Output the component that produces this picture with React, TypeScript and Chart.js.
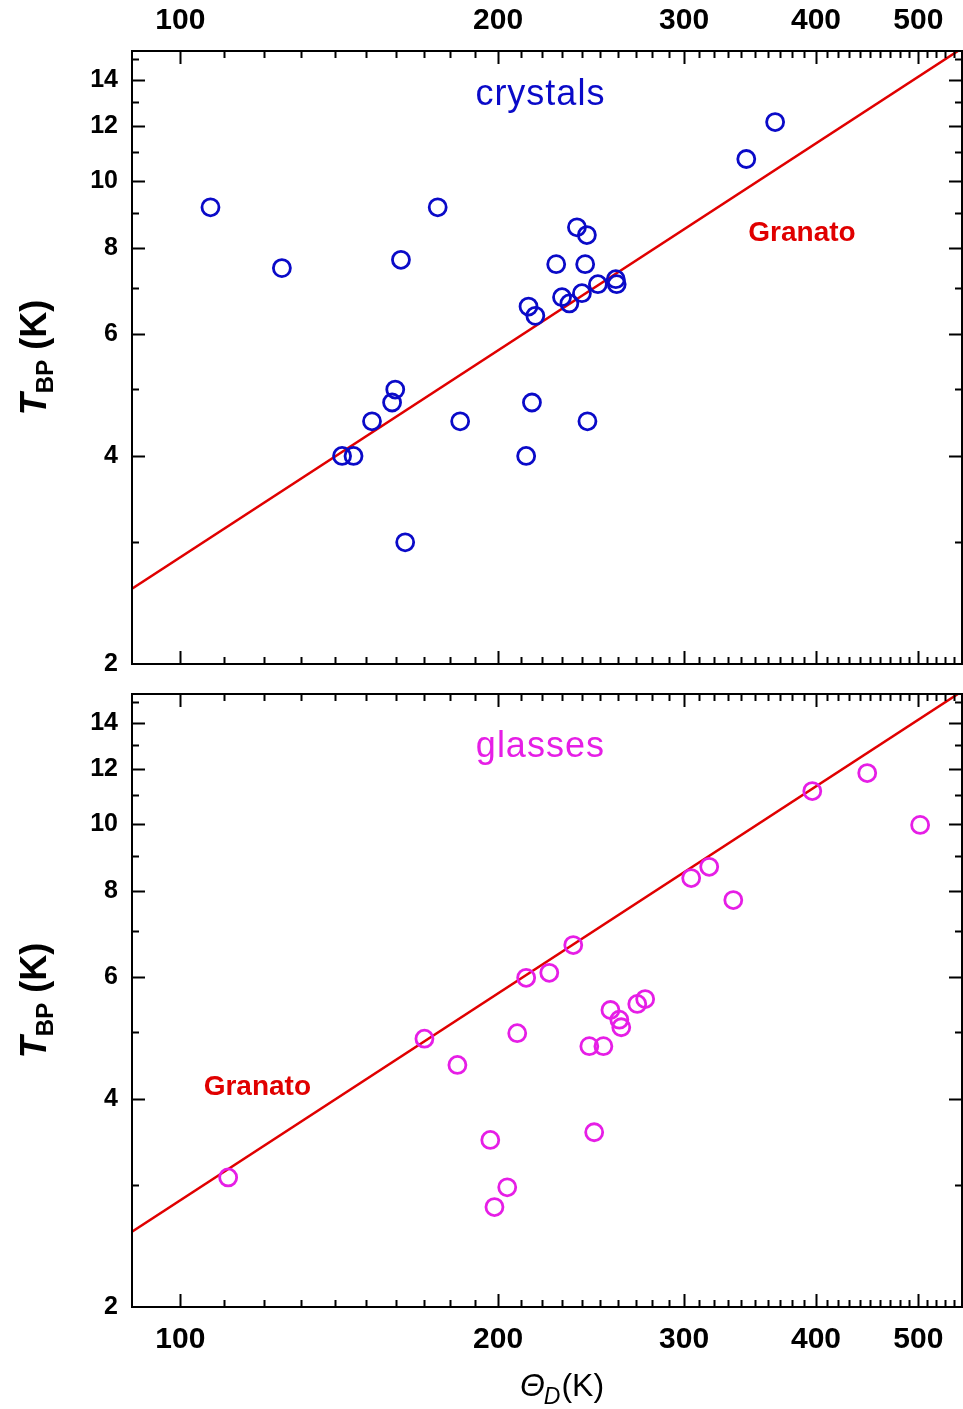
import React, { useEffect, useRef } from "react";
import { Chart, registerables } from "chart.js";
Chart.register(...registerables);

const FONT = '"Liberation Sans", Arial, Helvetica, sans-serif';
const BLUE = "#0a0ac8";
const MAGENTA = "#e61ee6";
const RED = "#e00000";

// axis ticks
const xTickValues = [100, 200, 300, 400, 500];
const xMinorValues = [
  110, 120, 130, 140, 150, 160, 170, 180, 190,
  210, 220, 230, 240, 250, 260, 270, 280, 290,
  310, 320, 330, 340, 350, 360, 370, 380, 390,
  410, 420, 430, 440, 450, 460, 470, 480, 490,
  510, 520, 530, 540,
];
const yTickValues = [2, 4, 6, 8, 10, 12, 14];
const yMinorValues = [3, 5, 7, 9, 11, 13, 15];

// crystals (Debye temperature, boson peak temperature)
const crystalsTheta = [
  106.8, 124.8, 175.3, 161.8, 213.7, 216.9, 227.0, 159.8, 158.7, 151.9,
  184.1, 215.3, 142.3, 145.9, 212.6, 163.3, 237.5, 242.7, 241.8, 258.5,
  259.0, 248.6, 240.1, 229.9, 233.6, 243.0, 343.6, 365.9,
];
const crystalsT = [
  9.16, 7.48, 9.16, 7.69, 6.58, 6.38, 7.58, 4.99, 4.78, 4.49,
  4.49, 4.78, 4.0, 4.0, 4.0, 3.0, 8.57, 8.35, 7.58, 7.21,
  7.09, 7.09, 6.88, 6.79, 6.65, 4.49, 10.76, 12.17,
];

// glasses
const glassesTheta = [
  111.0, 170.3, 183.0, 196.6, 204.0, 198.4, 208.5, 212.6, 223.6, 235.6,
  244.0, 251.6, 246.6, 255.5, 260.5, 261.6, 270.9, 275.6, 304.7, 316.9,
  334.0, 396.8, 447.3, 502.0,
];
const glassesT = [
  3.08, 4.89, 4.48, 3.49, 2.98, 2.79, 4.98, 5.99, 6.09, 6.68,
  4.77, 4.77, 3.58, 5.38, 5.21, 5.08, 5.49, 5.58, 8.35, 8.67,
  7.76, 11.16, 11.85, 9.97,
];

// Granato line endpoints
const granatoTheta = [90, 550];
const granatoT = [2.57, 15.56];

const X_MIN = 90;
const X_MAX = 550;
const Y_MIN = 2;
const Y_MAX = 15.42;

type PanelCfg = {
  label: string;
  labelColor: string;
  labelAt: [number, number];
  granatoAt: [number, number];
  xTitle: boolean;
};

function drawYTitle(ctx: CanvasRenderingContext2D, baseX: number, cy: number) {
  ctx.save();
  ctx.translate(baseX, cy);
  ctx.rotate(-Math.PI / 2);
  ctx.fillStyle = "#000";
  ctx.textBaseline = "alphabetic";
  ctx.textAlign = "left";
  const fT = `italic bold 36px ${FONT}`;
  const fS = `bold 24px ${FONT}`;
  const fK = `bold 36px ${FONT}`;
  ctx.font = fT;
  const wT = ctx.measureText("T").width;
  ctx.font = fS;
  const wS = ctx.measureText("BP").width;
  ctx.font = fK;
  const wK = ctx.measureText(" (K)").width;
  let x = -(wT + wS + wK) / 2;
  ctx.font = fT;
  ctx.fillText("T", x, 0);
  x += wT;
  ctx.font = fS;
  ctx.fillText("BP", x, 7);
  x += wS;
  ctx.font = fK;
  ctx.fillText(" (K)", x, 0);
  ctx.restore();
}

function drawXTitle(ctx: CanvasRenderingContext2D, cx: number, baseY: number) {
  ctx.save();
  ctx.fillStyle = "#000";
  ctx.textBaseline = "alphabetic";
  ctx.textAlign = "left";
  const fTh = `italic 32px ${FONT}`;
  const fD = `italic 23px ${FONT}`;
  const fK = `32px ${FONT}`;
  ctx.font = fTh;
  const w1 = ctx.measureText("\u0398").width;
  ctx.font = fD;
  const w2 = ctx.measureText("D").width;
  ctx.font = fK;
  const w3 = ctx.measureText("(K)").width;
  let x = cx - (w1 + w2 + w3) / 2;
  ctx.font = fTh;
  ctx.fillText("\u0398", x, baseY);
  x += w1;
  ctx.font = fD;
  ctx.fillText("D", x - 1, baseY + 8);
  x += w2;
  ctx.font = fK;
  ctx.fillText("(K)", x, baseY);
  ctx.restore();
}

function decorPlugin(cfg: PanelCfg) {
  return {
    id: "panelDecor",
    afterDraw(chart: any) {
      const ctx: CanvasRenderingContext2D = chart.ctx;
      const { left, right, top, bottom } = chart.chartArea;
      const xs = chart.scales.x;
      const ys = chart.scales.y;
      ctx.save();
      ctx.strokeStyle = "#000";
      ctx.lineWidth = 2;
      ctx.strokeRect(left, top, right - left, bottom - top);
      ctx.beginPath();
      const xt = (v: number, len: number) => {
        const px = Math.round(xs.getPixelForValue(v)) + 0.5;
        ctx.moveTo(px, bottom);
        ctx.lineTo(px, bottom - len);
        ctx.moveTo(px, top);
        ctx.lineTo(px, top + len);
      };
      const yt = (v: number, len: number) => {
        const py = Math.round(ys.getPixelForValue(v)) + 0.5;
        ctx.moveTo(left, py);
        ctx.lineTo(left + len, py);
        ctx.moveTo(right, py);
        ctx.lineTo(right - len, py);
      };
      xTickValues.forEach((v) => xt(v, 13));
      xMinorValues.forEach((v) => xt(v, 7));
      yTickValues.filter((v) => v > Y_MIN).forEach((v) => yt(v, 13));
      yMinorValues.filter((v) => v < Y_MAX).forEach((v) => yt(v, 7));
      ctx.stroke();

      // panel label
      ctx.textAlign = "center";
      ctx.textBaseline = "middle";
      ctx.fillStyle = cfg.labelColor;
      ctx.font = `36px ${FONT}`;
      (ctx as any).letterSpacing = "1px";
      ctx.fillText(cfg.label, xs.getPixelForValue(cfg.labelAt[0]), ys.getPixelForValue(cfg.labelAt[1]));
      (ctx as any).letterSpacing = "0px";
      ctx.fillStyle = RED;
      ctx.font = `bold 28px ${FONT}`;
      ctx.fillText("Granato", xs.getPixelForValue(cfg.granatoAt[0]), ys.getPixelForValue(cfg.granatoAt[1]));

      drawYTitle(ctx, 46, (top + bottom) / 2);
      if (cfg.xTitle) {
        drawXTitle(ctx, 562, 716);
      }
      ctx.restore();
    },
  };
}

function zeroPad(s: any) {
  s.paddingLeft = 0;
  s.paddingRight = 0;
  s.paddingTop = 0;
  s.paddingBottom = 0;
}

function makeConfig(
  thetas: number[],
  temps: number[],
  color: string,
  name: string,
  xPos: "top" | "bottom",
  padding: any,
  xAxisHeight: number,
  xLabelPad: number,
  cfg: PanelCfg
): any {
  return {
    type: "scatter",
    data: {
      datasets: [
        {
          type: "line",
          label: "Granato",
          data: granatoTheta.map((x, i) => ({ x, y: granatoT[i] })),
          borderColor: RED,
          borderWidth: 2.5,
          pointRadius: 0,
          fill: false,
          tension: 0,
          order: 2,
        },
        {
          type: "scatter",
          label: name,
          data: thetas.map((x, i) => ({ x, y: temps[i] })),
          pointStyle: "circle",
          pointRadius: 8.5,
          pointHoverRadius: 8.5,
          pointBorderWidth: 2.8,
          borderColor: color,
          backgroundColor: "rgba(0,0,0,0)",
          showLine: false,
          order: 1,
        },
      ],
    },
    options: {
      responsive: false,
      animation: false,
      devicePixelRatio: 1,
      layout: { padding, autoPadding: false },
      plugins: {
        legend: { display: false },
        tooltip: { enabled: false },
      },
      scales: {
        x: {
          type: "logarithmic",
          position: xPos,
          min: X_MIN,
          max: X_MAX,
          offset: false,
          grid: { display: false, drawTicks: false, offset: false },
          border: { display: false },
          ticks: {
            color: "#000",
            font: { family: FONT, size: 30, weight: "bold" },
            padding: xLabelPad,
            autoSkip: false,
            maxRotation: 0,
            callback: (v: any) => String(v),
          },
          afterBuildTicks: (s: any) => {
            s.ticks = xTickValues.map((v) => ({ value: v }));
          },
          afterFit: (s: any) => {
            s.height = xAxisHeight;
            zeroPad(s);
          },
        },
        y: {
          type: "logarithmic",
          position: "left",
          min: Y_MIN,
          max: Y_MAX,
          grid: { display: false, drawTicks: false },
          border: { display: false },
          ticks: {
            color: "#000",
            font: { family: FONT, size: 25, weight: "bold" },
            padding: 14,
            autoSkip: false,
            callback: (v: any) => String(v),
          },
          afterBuildTicks: (s: any) => {
            s.ticks = yTickValues.map((v) => ({ value: v }));
          },
          afterFit: (s: any) => {
            s.width = 132;
            zeroPad(s);
          },
        },
      },
    },
    plugins: [decorPlugin(cfg)],
  };
}

export default function App() {
  const topRef = useRef<HTMLCanvasElement>(null);
  const botRef = useRef<HTMLCanvasElement>(null);

  useEffect(() => {
    const c1 = new Chart(
      topRef.current as HTMLCanvasElement,
      makeConfig(crystalsTheta, crystalsT, BLUE, "crystals", "top", { left: 0, right: 1, top: 0, bottom: 16 }, 51, 12, {
        label: "crystals",
        labelColor: BLUE,
        labelAt: [219.3, 13.3],
        granatoAt: [388, 8.41],
        xTitle: false,
      })
    );
    const c2 = new Chart(
      botRef.current as HTMLCanvasElement,
      makeConfig(glassesTheta, glassesT, MAGENTA, "glasses", "bottom", { left: 0, right: 1, top: 14, bottom: 0 }, 102, 15, {
        label: "glasses",
        labelColor: MAGENTA,
        labelAt: [219.3, 12.9],
        granatoAt: [118.3, 4.16],
        xTitle: true,
      })
    );
    return () => {
      c1.destroy();
      c2.destroy();
    };
  }, []);

  return (
    <div style={{ position: "absolute", left: 0, top: 0, width: 963, height: 1409, background: "#fff" }}>
      <canvas
        ref={topRef}
        width={963}
        height={680}
        style={{ position: "absolute", left: 0, top: 0, width: 963, height: 680 }}
      />
      <canvas
        ref={botRef}
        width={963}
        height={729}
        style={{ position: "absolute", left: 0, top: 680, width: 963, height: 729 }}
      />
    </div>
  );
}
